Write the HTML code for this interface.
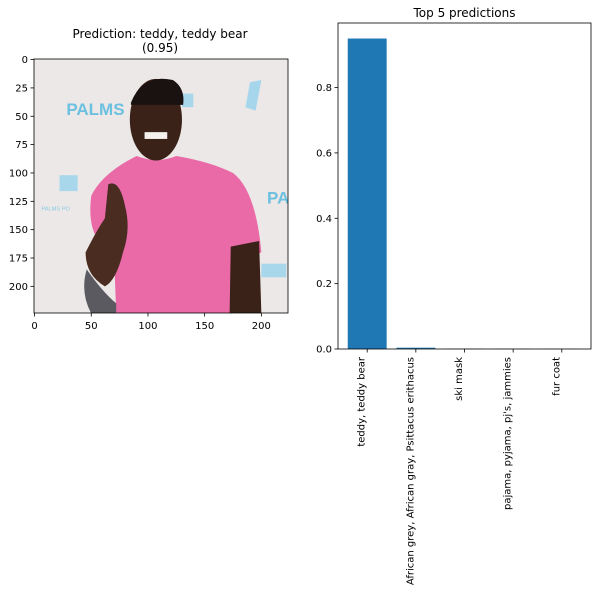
<!DOCTYPE html>
<html><head><meta charset="utf-8"><style>
body{margin:0;background:#fff;}
svg{display:block;font-family:"DejaVu Sans","Liberation Sans",sans-serif;}
</style></head><body>
<svg id="fig" width="598" height="593" viewBox="0 0 598 593">
<rect width="598" height="593" fill="#fff"/>
<g>
<text x="160" y="38" font-size="12" text-anchor="middle">Prediction: teddy, teddy bear</text>
<text x="160" y="52" font-size="12" text-anchor="middle">(0.95)</text>
<svg x="34" y="59" width="254" height="254" viewBox="-0.5 -0.5 224 224" preserveAspectRatio="none">
<rect x="-0.5" y="-0.5" width="224" height="224" fill="#ebe8e7"/>
<text x="28" y="49" font-size="15" font-weight="bold" fill="#6cc0e0" font-family="Liberation Sans,sans-serif">PALMS</text>
<text x="205" y="127" font-size="15" font-weight="bold" fill="#6cc0e0" font-family="Liberation Sans,sans-serif">PA</text>
<text x="6" y="133" font-size="5" fill="#8ccbe4" font-family="Liberation Sans,sans-serif">PALMS PO</text>
<rect x="22" y="102" width="16" height="14" fill="#a8d7ec"/>
<rect x="200" y="180" width="22" height="12" fill="#a8d7ec"/>
<rect x="130" y="30" width="10" height="12" fill="#a8d7ec"/>
<path d="M190 20 L200 18 L195 45 L186 42Z" fill="#a6d6ec"/>
<path d="M90 85 Q108 92 125 85 Q155 90 175 100 Q195 115 200 170 L180 178 L178 224 L72 224 L70 170 Q45 160 50 120 Q60 100 90 85Z" fill="#ea6aa8"/>
<ellipse cx="107" cy="53" rx="23" ry="36" fill="#3a2218"/>
<path d="M85 38 Q95 12 122 18 Q133 25 131 40 L85 40Z" fill="#1a1210"/>
<rect x="97" y="64" width="20" height="6" fill="#f4f0ee"/>
<path d="M65 110 Q75 105 80 130 Q85 150 78 170 Q72 195 62 200 Q45 190 45 170 Q55 150 62 140Z" fill="#4a2c20"/>
<path d="M46 185 Q60 205 72 215 L72 224 L50 224 Q40 205 46 185Z" fill="#5a5a60"/>
<path d="M173 165 L198 160 L200 224 L172 224Z" fill="#3a2218"/>
</svg>
<rect x="34" y="59" width="254" height="254" fill="none" stroke="#000" stroke-width="0.8"/>
<g id="imgTicks" font-size="10"></g>
</g>
<g>
<text x="464.5" y="17" font-size="12" text-anchor="middle">Top 5 predictions</text>
<g id="bars"></g>
<rect x="338" y="23" width="253" height="326" fill="none" stroke="#000" stroke-width="0.8"/>
<g id="axes" font-size="10"></g>
</g>
</svg>
<script>
const categories = ["teddy, teddy bear","African grey, African gray, Psittacus erithacus","ski mask","pajama, pyjama, pj's, jammies","fur coat"];
const values = [0.95, 0.004, 0.0008, 0.0006, 0.0005];
const yTicks = [0.0, 0.2, 0.4, 0.6, 0.8];
const imgTicks = [0, 25, 50, 75, 100, 125, 150, 175, 200];
const xImgTicks = [0, 50, 100, 150, 200];

const NS = "http://www.w3.org/2000/svg";
function mk(tag, attrs, parent){const e=document.createElementNS(NS,tag);for(const k in attrs)e.setAttribute(k,attrs[k]);parent.appendChild(e);return e;}

const L=338,R=591,T=23,B=349;
const ymax=0.95*1.05;
const xs=i=>L+(i+0.6)/5.2*(R-L);
const ys=v=>B-v/ymax*(B-T);
const bw=0.8/5.2*(R-L);
const bars=document.getElementById('bars');
values.forEach((v,i)=>{
  const r=mk('rect',{x:xs(i)-bw/2,y:ys(v),width:bw,height:B-ys(v),fill:'#1f77b4'},bars);
  
  
});
const ax=document.getElementById('axes');
yTicks.forEach(t=>{
  const y=ys(t);
  mk('line',{x1:L-3.5,x2:L,y1:y,y2:y,stroke:'#000','stroke-width':0.8},ax);
  const tx=mk('text',{x:L-6,y:y+3.5,'text-anchor':'end'},ax);
  tx.textContent=t.toFixed(1);
  
  
});
categories.forEach((c,i)=>{
  const x=xs(i);
  mk('line',{x1:x,x2:x,y1:B,y2:B+3.5,stroke:'#000','stroke-width':0.8},ax);
  const tx=mk('text',{transform:`translate(${x-2.5},${B+8}) rotate(-90)`,'text-anchor':'end','font-size':10},ax);
  tx.textContent=c;
  
  
});

const iL=34,iT=59,sc=254/224;
const ig=document.getElementById('imgTicks');
imgTicks.forEach(t=>{
  const y=iT+(t+0.5)*sc;
  mk('line',{x1:iL-3.5,x2:iL,y1:y,y2:y,stroke:'#000','stroke-width':0.8},ig);
  const tx=mk('text',{x:iL-6,y:y+3.5,'text-anchor':'end'},ig);
  tx.textContent=t;
  
  
});
xImgTicks.forEach(t=>{
  const x=iL+(t+0.5)*sc;
  mk('line',{x1:x,x2:x,y1:313,y2:316.5,stroke:'#000','stroke-width':0.8},ig);
  const tx=mk('text',{x:x,y:329,'text-anchor':'middle'},ig);
  tx.textContent=t;
  
  
});
</script>
</body></html>
